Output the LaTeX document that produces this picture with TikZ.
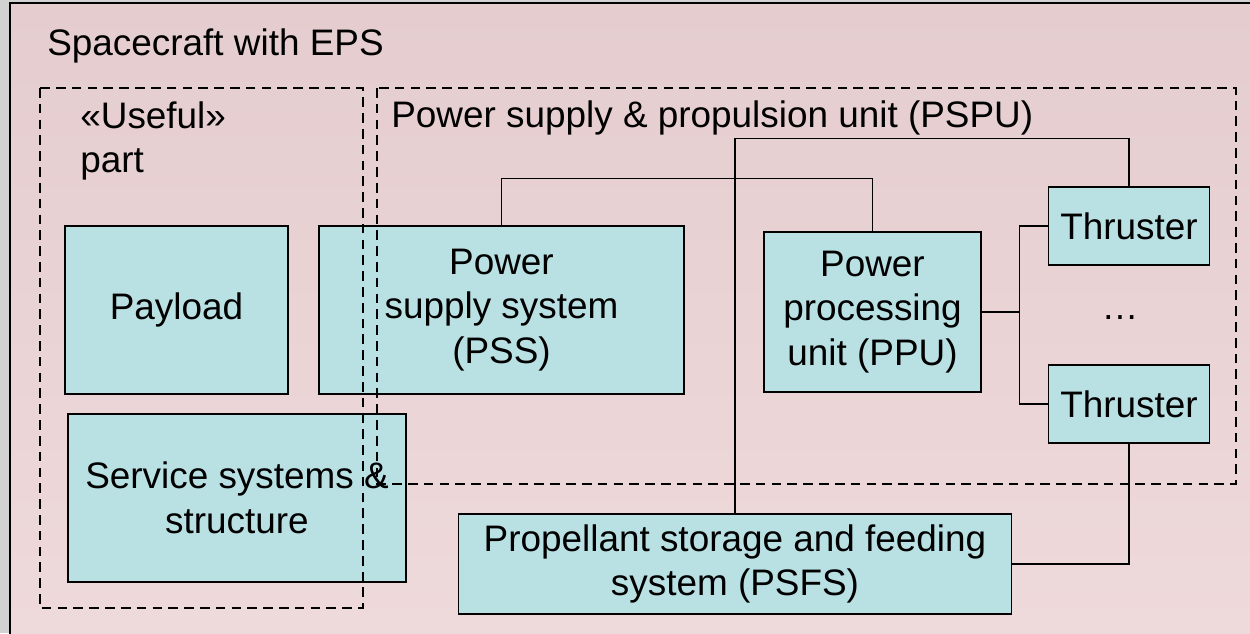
\documentclass[tikz,border=0pt]{standalone}
\usepackage{fontspec}
\setmainfont{Liberation Sans}
\usetikzlibrary{positioning}
\definecolor{bgpink}{RGB}{229,205,207}
\definecolor{bglight}{RGB}{238,217,219}
\definecolor{boxfill}{RGB}{185,224,227}
\tikzset{
    block/.style={rectangle, draw=black, line width=0.8pt, fill=boxfill, text centered, align=center, inner sep=2pt, font=\fontsize{21}{25.5}\selectfont},
    group/.style={draw=black, line width=0.7pt, dash pattern=on 5.5pt off 3.5pt},
    link/.style={draw=black, line width=0.7pt},
    caption/.style={inner sep=0pt, align=left, font=\fontsize{21}{25.5}\selectfont},
}
\begin{document}
\begin{tikzpicture}[x=0.02cm,y=-0.02cm]
  \useasboundingbox (0,0) rectangle (1250,633);
  % background
  \fill[gray!35] (0,0) rectangle (1250,633);
  \shade[top color=bgpink, bottom color=bglight] (10,3) rectangle (1250,633);
  \draw[line width=0.9pt] (10,3) rectangle (1260,645);

  % blocks
  \node[block, minimum width=4.46cm, minimum height=3.36cm] (payload) at (176.5,310) {Payload};
  \node[block, minimum width=7.3cm, minimum height=3.36cm]  (pss)     at (501.5,310) {Power\\supply system\\(PSS)};
  \node[block, minimum width=4.34cm, minimum height=3.2cm]  (ppu)     at (872.5,312) {Power\\processing\\unit (PPU)};
  \node[block, minimum width=3.22cm, minimum height=1.56cm] (thr1)    at (1129,226) {Thruster};
  \node[block, minimum width=3.22cm, minimum height=1.56cm] (thr2)    at (1129,404) {Thruster};
  \node[caption] (dots) at (1120,318) {\dots};
  \node[block, minimum width=6.76cm, minimum height=3.36cm] (service) at (237,498) {Service systems \&\\structure};
  \node[block, minimum width=11.06cm, minimum height=2.0cm] (psfs)    at (735,564) {Propellant storage and feeding\\system (PSFS)};

  % connections
  \draw[link] (pss.north) -- ++(0,-47) -| (ppu.north);
  \draw[link] (psfs.north) -- ++(0,-375) -| (thr1.north);
  \draw[link] (ppu.east) -- ++(38,0) coordinate (fork);
  \draw[link] (fork) |- (thr1.west);
  \draw[link] (fork) |- (thr2.west);
  \draw[link] (thr2.south) |- (psfs.east);

  % groups
  \draw[group] (40,88) rectangle (363,608);
  \draw[group] (377,88) rectangle (1236,484);

  % labels
  \node[caption, anchor=base west]  (sc)     at (47,55)  {Spacecraft with EPS};
  \node[caption, anchor=north west] (useful) at (80,101) {«Useful»\\part};
  \node[caption, anchor=base west]  (pspu)   at (391,127) {Power supply \& propulsion unit (PSPU)};
\end{tikzpicture}
\end{document}
